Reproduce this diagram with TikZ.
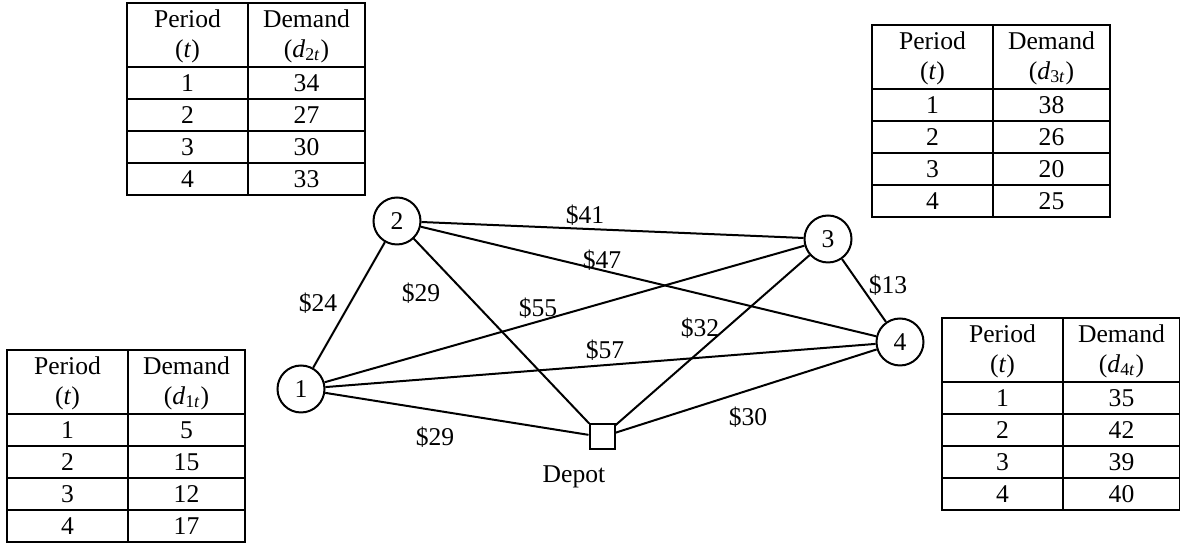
\documentclass[tikz,border=0pt]{standalone}
\usepackage{fontspec}
\setmainfont{Liberation Serif}
\usetikzlibrary{positioning}

\tikzset{
  % --- demand table drawn as a pic ---
  grid/.style={line width=1.1pt},
  cell/.style={inner sep=0pt, align=center},
  pics/demand/.style n args={5}{code={
    \draw[grid] (0,0) rectangle (238,192);
    \draw[grid] (121,0) -- (121,192);
    \foreach \k in {0,...,3}
      \draw[grid] (0,64+32*\k) -- (238,64+32*\k);
    \node[cell] (-hp) at (60.5,33) {Period\\(\textit{t})};
    \node[cell] (-hd) at (179.5,33) {Demand\\(\textit{d}\textsubscript{#1\textit{t}})};
    \foreach \v [count=\r] in {#2,#3,#4,#5} {
      \node[cell] (-p\r) at (60.5,48+32*\r) {\r};
      \node[cell] (-d\r) at (179.5,48+32*\r) {\v};
    }
  }},
}

\begin{document}
\begin{tikzpicture}[
  x=0.5pt, y=-0.5pt,
  font=\fontsize{12.8}{15}\selectfont,
  % --- Style definitions ---
  stop/.style={draw, circle, minimum size=23.5pt, inner sep=0pt, line width=1pt},
  depot/.style={draw, rectangle, minimum size=12.5pt, inner sep=0pt, line width=1pt},
  road/.style={line width=1pt},
  cost/.style={inner sep=1pt},
]
\useasboundingbox (0,0) rectangle (1180,544);

% ===== Demand tables =====
\pic (dem1) at (7,350)  {demand={1}{5}{15}{12}{17}};
\pic (dem2) at (127,3)  {demand={2}{34}{27}{30}{33}};
\pic (dem3) at (872,25) {demand={3}{38}{26}{20}{25}};
\pic (dem4) at (942,318) {demand={4}{35}{42}{39}{40}};

% ===== Customers and depot =====
\node[stop] (n1) at (301,389) {1};
\node[stop] (n2) at (397,221) {2};
\node[stop] (n3) at (828,239) {3};
\node[stop] (n4) at (900,342) {4};
\node[depot] (dp) at (602,437) {};
\node (dplab) at (574,477) {Depot};

% ===== Roads =====
\foreach \a/\b in {n1/n2, n1/n3, n1/n4, n1/dp, n2/n3, n2/n4, n2/dp, n3/n4, n3/dp, n4/dp}
  \draw[road] (\a) -- (\b);

% ===== Travel costs =====
\foreach \nm/\xy/\c in {c23/{(585,215)}/41, c24/{(602,260)}/47, c34/{(888,285)}/13,
                        c12/{(318,303)}/24, c2d/{(421,293)}/29, c13/{(538,308)}/55,
                        c3d/{(700,328)}/32, c14/{(605,350)}/57, c1d/{(435,437)}/29,
                        c4d/{(748,417)}/30}
  \node[cost] (\nm) at \xy {\$\c};

\end{tikzpicture}
\end{document}
